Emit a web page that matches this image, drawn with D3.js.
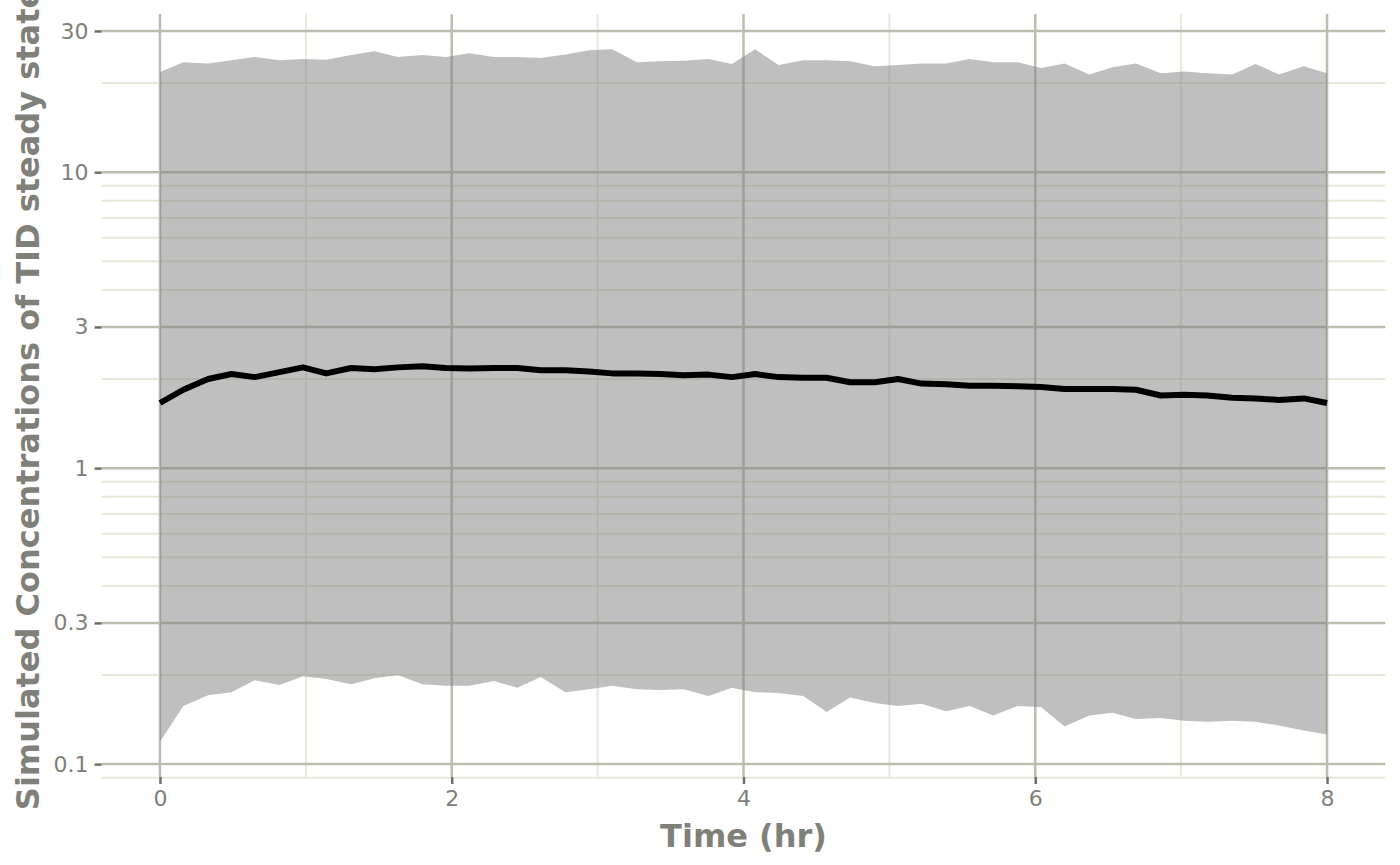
<!DOCTYPE html>
<html>
<head>
<meta charset="utf-8">
<script src="https://cdn.jsdelivr.net/npm/d3@7"></script>
<style>
  html, body { margin: 0; padding: 0; background: #ffffff; }
  svg { display: block; }
  text { font-family: "DejaVu Sans", sans-serif; }
</style>
</head>
<body>
<svg id="chart" width="1400" height="865"></svg>
<script>
// ---- data ----
const timeHr = [0, 0.16, 0.33, 0.49, 0.65, 0.82, 0.98, 1.14, 1.31, 1.47, 1.63, 1.8, 1.96, 2.12, 2.29, 2.45, 2.61, 2.78, 2.94, 3.1,
  3.27, 3.43, 3.59, 3.76, 3.92, 4.08, 4.24, 4.41, 4.57, 4.73, 4.9, 5.06, 5.22, 5.39, 5.55, 5.71, 5.88, 6.04, 6.2, 6.37,
  6.53, 6.69, 6.86, 7.02, 7.18, 7.35, 7.51, 7.67, 7.84, 8];
const upperConc = [21.8, 23.5, 23.3, 23.9, 24.5, 23.9, 24.1, 24.0, 24.9, 25.6, 24.5, 24.9, 24.5, 25.2, 24.5, 24.5, 24.3, 25.0, 25.8, 26.0,
  23.5, 23.7, 23.8, 24.1, 23.2, 26.0, 23.0, 23.9, 23.9, 23.7, 22.8, 23.0, 23.3, 23.3, 24.1, 23.5, 23.5, 22.5, 23.3, 21.4,
  22.6, 23.3, 21.6, 21.9, 21.6, 21.4, 23.2, 21.4, 22.8, 21.6];
const lowerConc = [0.119, 0.157, 0.171, 0.175, 0.192, 0.185, 0.198, 0.194, 0.186, 0.195, 0.200, 0.186, 0.184, 0.184, 0.191, 0.181, 0.197, 0.175, 0.179, 0.184,
  0.179, 0.178, 0.179, 0.170, 0.181, 0.175, 0.174, 0.170, 0.150, 0.168, 0.161, 0.157, 0.160, 0.151, 0.157, 0.146, 0.157, 0.156, 0.134, 0.146,
  0.149, 0.142, 0.143, 0.140, 0.139, 0.140, 0.139, 0.135, 0.130, 0.126];
const medianConc = [1.66, 1.84, 2.00, 2.08, 2.03, 2.11, 2.19, 2.09, 2.18, 2.16, 2.19, 2.21, 2.18, 2.17, 2.18, 2.18, 2.14, 2.14, 2.12, 2.09,
  2.09, 2.08, 2.06, 2.07, 2.03, 2.08, 2.03, 2.02, 2.02, 1.95, 1.95, 2.00, 1.93, 1.92, 1.90, 1.90, 1.89, 1.88, 1.85, 1.85,
  1.85, 1.84, 1.76, 1.77, 1.76, 1.73, 1.72, 1.70, 1.72, 1.66];

const xTicks = [0, 2, 4, 6, 8];
const xMinorTicks = [1, 3, 5, 7];
const yTicks = [0.1, 0.3, 1, 3, 10, 30];
const yTickLabels = ["0.1", "0.3", "1", "3", "10", "30"];
const yMinorTicks = [0.09, 0.2, 0.4, 0.5, 0.6, 0.7, 0.8, 0.9, 2, 4, 5, 6, 7, 8, 9, 20];
const xTitle = "Time (hr)";
const yTitle = "Simulated Concentrations of TID steady state";

// ---- layout ----
const panel = { left: 101.6, right: 1385.4, top: 14, bottom: 777 };
const svg = d3.select("#chart");

const x = d3.scaleLinear().domain([-0.4, 8.4]).range([panel.left, panel.right]);
const y = d3.scaleLog().domain([0.09045, 34.23]).range([panel.bottom, panel.top]);

const majorCol = "#bdbdb0";
const minorCol = "#e8e8da";
const textCol = "#80807a";
const tickCol = "#6e6e6e";

const grid = svg.append("g");
grid.selectAll(".hmin").data(yMinorTicks).join("line")
  .attr("x1", panel.left).attr("x2", panel.right)
  .attr("y1", d => y(d)).attr("y2", d => y(d))
  .attr("stroke", minorCol).attr("stroke-width", 2);
grid.selectAll(".vmin").data(xMinorTicks).join("line")
  .attr("x1", d => x(d)).attr("x2", d => x(d))
  .attr("y1", panel.top).attr("y2", panel.bottom)
  .attr("stroke", minorCol).attr("stroke-width", 2);
grid.selectAll(".hmaj").data(yTicks).join("line")
  .attr("x1", panel.left).attr("x2", panel.right)
  .attr("y1", d => y(d)).attr("y2", d => y(d))
  .attr("stroke", majorCol).attr("stroke-width", 2.5);
grid.selectAll(".vmaj").data(xTicks).join("line")
  .attr("x1", d => x(d)).attr("x2", d => x(d))
  .attr("y1", panel.top).attr("y2", panel.bottom)
  .attr("stroke", majorCol).attr("stroke-width", 2.5);

// ribbon
const rows = timeHr.map((t, i) => ({ t, lo: lowerConc[i], hi: upperConc[i], med: medianConc[i] }));
const area = d3.area().x(d => x(d.t)).y0(d => y(d.lo)).y1(d => y(d.hi));
svg.append("path").datum(rows).attr("d", area)
  .attr("fill", "#7f7f7f").attr("fill-opacity", 0.5);

// median line
const line = d3.line().x(d => x(d.t)).y(d => y(d.med));
svg.append("path").datum(rows).attr("d", line)
  .attr("fill", "none").attr("stroke", "#000").attr("stroke-width", 6)
  .attr("stroke-linejoin", "round");

// axes
const yAxis = d3.axisLeft(y).tickValues(yTicks)
  .tickFormat((d, i) => yTickLabels[i]).tickSize(7).tickPadding(6);
const gy = svg.append("g").attr("transform", `translate(${panel.left},0)`).call(yAxis);
gy.select(".domain").remove();
gy.selectAll(".tick line").attr("stroke", tickCol).attr("stroke-width", 2.5);
gy.selectAll(".tick text").attr("fill", textCol).style("font-size", "22px")
  .style("font-family", "DejaVu Sans");

const xAxis = d3.axisBottom(x).tickValues(xTicks).tickFormat(d3.format("d")).tickSize(7).tickPadding(6);
const gx = svg.append("g").attr("transform", `translate(0,${panel.bottom})`).call(xAxis);
gx.select(".domain").remove();
gx.selectAll(".tick line").attr("stroke", tickCol).attr("stroke-width", 2.5);
gx.selectAll(".tick text").attr("fill", textCol).style("font-size", "22px")
  .style("font-family", "DejaVu Sans");

// titles
svg.append("text")
  .attr("x", (panel.left + panel.right) / 2).attr("y", 847)
  .attr("text-anchor", "middle").attr("fill", textCol)
  .style("font-size", "32px").style("font-weight", "bold")
  .text(xTitle);

svg.append("text")
  .attr("transform", `translate(39,${(panel.top + panel.bottom) / 2 + 3}) rotate(-90)`)
  .attr("text-anchor", "middle").attr("fill", textCol)
  .style("font-size", "32px").style("font-weight", "bold")
  .text(yTitle);
</script>
</body>
</html>
